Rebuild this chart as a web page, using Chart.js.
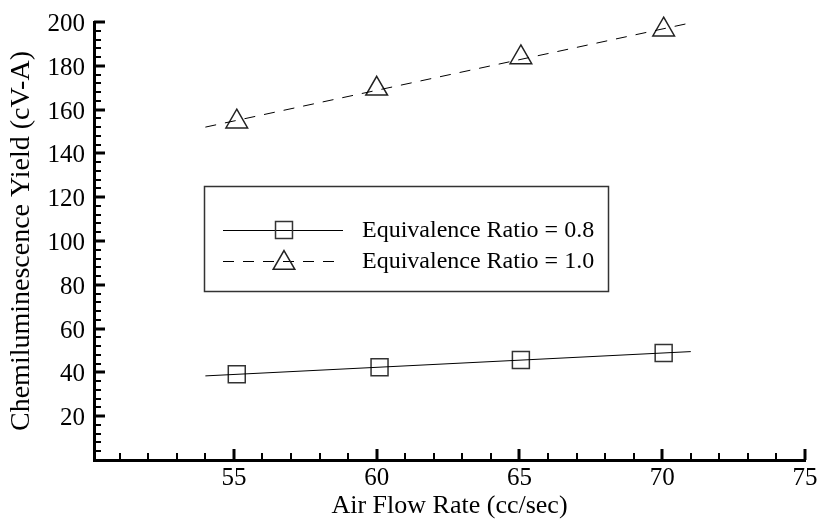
<!DOCTYPE html>
<html>
<head>
<meta charset="utf-8">
<script src="https://cdn.jsdelivr.net/npm/chart.js@4/dist/chart.umd.min.js"></script>
<style>
  body { margin: 0; background: #fff; }
  canvas { display: block; }
</style>
</head>
<body>
<canvas id="myChart" width="820" height="519"></canvas>
<script>
'use strict';
// data
const seriesNames = ['Equivalence Ratio = 0.8', 'Equivalence Ratio = 1.0'];
const airFlow08 = [55.1, 60.1, 65.05, 70.05];
const yield08 = [39.2, 42.4, 45.7, 48.9];
const airFlow10 = [55.1, 60.0, 65.05, 70.05];
const yield10 = [154.5, 169.5, 183.8, 196.5];
// fitted lines (end points)
const fitX = [54, 71];
const fit08 = [38.4, 49.5];
const fit10 = [152.0, 199.6];
// tick labels
const xTicks = [55, 60, 65, 70, 75];
const yTicks = [20, 40, 60, 80, 100, 120, 140, 160, 180, 200];

const serif = "'Liberation Serif', 'Times New Roman', serif";

function toPoints(xs, ys) {
  let pts = [];
  for (let i = 0; i < xs.length; i++) {
    pts.push({x: xs[i], y: ys[i]});
  }
  return pts;
}

// inward major + minor ticks, drawn through the scales
const innerTicks = {
  id: 'innerTicks',
  afterDatasetsDraw(chart) {
    let c = chart.ctx;
    let xs = chart.scales.x;
    let ys = chart.scales.y;
    let area = chart.chartArea;
    c.save();
    c.strokeStyle = '#000';
    // x axis
    for (let v = 51; v <= 75; v++) {
      let major = xTicks.includes(v);
      let px = Math.round(xs.getPixelForValue(v));
      c.lineWidth = major ? 3 : 2;
      c.beginPath();
      c.moveTo(px, area.bottom);
      c.lineTo(px, area.bottom - (major ? 11 : 7));
      c.stroke();
    }
    // y axis
    for (let v = 4; v <= 200; v += 4) {
      let major = yTicks.includes(v);
      let py = Math.round(ys.getPixelForValue(v));
      c.lineWidth = major ? 3 : 2;
      c.beginPath();
      c.moveTo(area.left, py);
      c.lineTo(area.left + (major ? 11 : 7), py);
      c.stroke();
    }
    c.restore();
  }
};

// boxed legend with line + marker samples, plus the tick labels
const boxLegend = {
  id: 'boxLegend',
  afterDraw(chart) {
    let c = chart.ctx;
    let xs = chart.scales.x;
    let ys = chart.scales.y;
    let area = chart.chartArea;
    c.save();
    c.strokeStyle = '#333';
    c.lineWidth = 1.5;
    c.strokeRect(204.5, 186.5, 404, 105);
    let rows = [
      {y: 230, line: chart.data.datasets[0], marker: chart.data.datasets[1]},
      {y: 261, line: chart.data.datasets[2], marker: chart.data.datasets[3]}
    ];
    rows.forEach(function(r, i) {
      c.strokeStyle = '#000';
      c.lineWidth = 1;
      c.setLineDash(r.line.borderDash || []);
      c.beginPath();
      c.moveTo(223, r.y + 0.5);
      c.lineTo(343, r.y + 0.5);
      c.stroke();
      c.setLineDash([]);
      c.strokeStyle = r.marker.pointBorderColor;
      c.fillStyle = 'rgba(0,0,0,0)';
      c.lineWidth = r.marker.pointBorderWidth;
      Chart.helpers.drawPoint(c, {
        pointStyle: r.marker.pointStyle,
        radius: r.marker.pointRadius,
        borderWidth: r.marker.pointBorderWidth,
        rotation: 0
      }, 284, r.y + (r.marker.pointStyle === 'triangle' ? 2 : 0));
      c.fillStyle = '#000';
      c.font = '24px ' + serif;
      c.textBaseline = 'middle';
      c.textAlign = 'left';
      c.fillText(seriesNames[i], 362, r.y + 1);
    });
    // tick labels, alphabetic baseline
    c.fillStyle = '#000';
    c.font = 'normal normal 25px ' + serif;
    c.textBaseline = 'alphabetic';
    c.textAlign = 'center';
    xTicks.forEach(function(v) {
      c.fillText(String(v), xs.getPixelForValue(v), area.bottom + 25);
    });
    c.textAlign = 'right';
    yTicks.forEach(function(v) {
      c.fillText(String(v), area.left - 9, ys.getPixelForValue(v) + 9);
    });
    c.restore();
  }
};

Chart.defaults.font.family = serif;
Chart.defaults.color = '#000';

let chart = new Chart(document.getElementById('myChart').getContext('2d'), {
  type: 'scatter',
  data: {
    datasets: [{
      label: seriesNames[0] + ' fit',
      data: toPoints(fitX, fit08),
      showLine: true,
      borderColor: '#000',
      borderWidth: 1,
      pointRadius: 0
    }, {
      label: seriesNames[0],
      data: toPoints(airFlow08, yield08),
      showLine: false,
      pointStyle: 'rect',
      pointRadius: 12,
      pointBorderWidth: 1.5,
      borderWidth: 1.5,
      pointBorderColor: '#333',
      pointBackgroundColor: 'rgba(0,0,0,0)',
      clip: false
    }, {
      label: seriesNames[1] + ' fit',
      data: toPoints(fitX, fit10),
      showLine: true,
      borderColor: '#000',
      borderWidth: 1,
      borderDash: [11, 9],
      pointRadius: 0
    }, {
      label: seriesNames[1],
      data: toPoints(airFlow10, yield10),
      showLine: false,
      pointStyle: 'triangle',
      pointRadius: 12.5,
      pointBorderWidth: 1.5,
      borderWidth: 1.5,
      pointBorderColor: '#222',
      pointBackgroundColor: 'rgba(0,0,0,0)',
      clip: false
    }]
  },
  options: {
    responsive: false,
    animation: false,
    layout: { padding: { left: 0, right: 15, top: 22, bottom: 0 } },
    plugins: {
      legend: { display: false },
      tooltip: { enabled: false }
    },
    scales: {
      x: {
        type: 'linear',
        min: 50.1,
        max: 75,
        afterBuildTicks(scale) {
          scale.ticks = xTicks.map(v => ({value: v}));
        },
        afterFit(scale) { scale.height = 59; },
        grid: { display: false, drawTicks: false },
        border: { display: true, color: '#000', width: 3 },
        ticks: { display: false },
        title: {
          display: true,
          text: 'Air Flow Rate (cc/sec)',
          font: { family: serif, size: 26, lineHeight: 1 },
          color: '#000',
          padding: { top: 0, bottom: 0 }
        }
      },
      y: {
        type: 'linear',
        min: 0,
        max: 200,
        afterBuildTicks(scale) {
          scale.ticks = yTicks.map(v => ({value: v}));
        },
        afterFit(scale) { scale.width = 94; },
        grid: { display: false, drawTicks: false },
        border: { display: true, color: '#000', width: 3 },
        ticks: { display: false },
        title: {
          display: true,
          text: 'Chemiluminescence Yield (cV-A)',
          font: { family: serif, size: 28, lineHeight: 1 },
          color: '#000',
          padding: { top: 8, bottom: 0 }
        }
      }
    }
  },
  plugins: [innerTicks, boxLegend]
});
</script>
</body>
</html>
